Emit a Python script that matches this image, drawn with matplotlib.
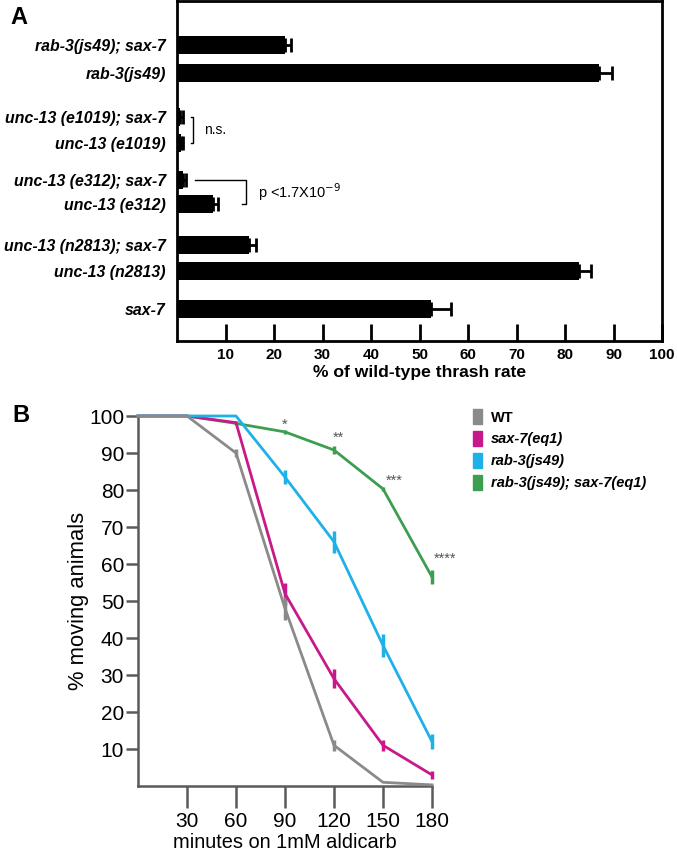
import matplotlib as mpl
mpl.use("Agg")
import matplotlib.pyplot as plt
from matplotlib.patches import Patch
import numpy as np

plt.rcParams['font.family'] = ['Liberation Sans', 'DejaVu Sans']

# ---- panel A data ----
strains = ["rab-3(js49); sax-7", "rab-3(js49)",
           "unc-13 (e1019); sax-7", "unc-13 (e1019)",
           "unc-13 (e312); sax-7", "unc-13 (e312)",
           "unc-13 (n2813); sax-7", "unc-13 (n2813)",
           "sax-7"]
thrash = [22.2, 87.1, 0.6, 0.8, 1.2, 7.5, 14.9, 82.9, 52.4]
thrash_err = [1.4, 2.5, 0.6, 0.5, 0.6, 0.9, 1.4, 2.4, 4.1]
bar_pos = [0, 1.04, 2.67, 3.63, 5.0, 5.89, 7.41, 8.37, 9.78]
xticks_a = [10, 20, 30, 40, 50, 60, 70, 80, 90, 100]

# ---- panel B data ----
minutes = [0, 30, 60, 90, 120, 150, 180]
wt = [100, 100, 90, 48, 11, 1, 0.3]
wt_err = [0, 0, 1, 3, 1.5, 0, 0]
sax7 = [100, 100, 98.2, 52, 29, 11, 3]
sax7_err = [0, 0, 0.5, 3, 2.5, 1.5, 1]
rab3 = [100, 100, 100, 83.5, 66, 38, 12]
rab3_err = [0, 0, 0, 2, 3, 3, 2]
double = [100, 100, 98, 95.7, 90.8, 80.3, 56.5]
double_err = [0, 0, 0, 0.6, 1, 0.6, 2]
stars = ["*", "**", "***", "****"]
star_x = [90, 123, 157, 188]
star_y = [97.5, 94, 82.5, 61.5]

fig = plt.figure(figsize=(6.77, 8.55), dpi=100)

# ================= A =================
axA = fig.add_axes([177/677, 1-341/855, 485/677, 340/855])
axA.barh(bar_pos, thrash, height=0.67, color='black',
         xerr=[np.zeros(len(thrash_err)), thrash_err],
         error_kw=dict(ecolor='black', elinewidth=2, capsize=5, capthick=2))
axA.set_xlim(0, 99)
axA.set_ylim(10.96, -1.63)
axA.set_yticks(bar_pos, strains, fontsize=11.4, fontweight='bold', style='italic')
axA.tick_params(axis='y', length=0, pad=8)
axA.set_xticks(xticks_a, [str(t) for t in xticks_a], fontsize=11, fontweight='bold')
axA.tick_params(axis='x', direction='in', length=12, width=2, pad=5)
for s in axA.spines.values():
    s.set_linewidth(2)
axA.set_xlabel("% of wild-type thrash rate", fontsize=12.6, fontweight='bold', labelpad=2)

# n.s. bracket
axA.plot([2.8, 3.4, 3.4, 2.8], [2.67, 2.67, 3.63, 3.63], color='black', lw=1)
axA.text(5.6, 3.15, "n.s.", fontsize=10, va='center')
# p value bracket
axA.plot([3.8, 14.3, 14.3, 13.3], [5.0, 5.0, 5.89, 5.89], color='black', lw=1)
axA.text(16.8, 5.45, r"p <1.7X10$^{-9}$", fontsize=10.5, va='center')

fig.text(10/677, 1-18/855, "A", fontsize=17, fontweight='bold', va='center')

# ================= B =================
axB = fig.add_axes([138/677, 1-786/855, 294/677, 370/855])
series = [(double, double_err, '#3d9e52'),
          (sax7, sax7_err, '#c8198a'),
          (rab3, rab3_err, '#1eb1e8'),
          (wt, wt_err, '#8a8a8a')]
for vals, err, col in series:
    axB.errorbar(minutes, vals, yerr=err, color=col, lw=2, elinewidth=2.5,
                 capsize=0, clip_on=False, zorder=3)
for s, xs, ys in zip(stars, star_x, star_y):
    axB.text(xs, ys, s, fontsize=10.5, color='#555555', ha='center', va='center')
axB.set_xlim(0, 180)
axB.set_ylim(0, 100)
gray = '#5a5a5a'
axB.spines['top'].set_visible(False)
axB.spines['right'].set_visible(False)
for s in ['left', 'bottom']:
    axB.spines[s].set_color(gray)
    axB.spines[s].set_linewidth(1.8)
axB.set_xticks([30, 60, 90, 120, 150, 180])
axB.set_yticks([10, 20, 30, 40, 50, 60, 70, 80, 90, 100])
for lab in axB.get_xticklabels() + axB.get_yticklabels():
    lab.set_fontsize(15)
axB.tick_params(axis='x', length=16, width=1.8, color=gray, pad=3)
axB.tick_params(axis='y', length=9, width=1.8, color=gray, pad=1)
axB.set_xlabel("minutes on 1mM aldicarb", fontsize=14.4, labelpad=1)
axB.set_ylabel("% moving animals", fontsize=15.8, labelpad=0)

handles = [Patch(color='#8a8a8a'), Patch(color='#c8198a'),
           Patch(color='#1eb1e8'), Patch(color='#3d9e52')]
names = ["WT", "sax-7(eq1)", "rab-3(js49)", "rab-3(js49); sax-7(eq1)"]
leg = fig.legend(handles, names, loc='upper left', bbox_to_anchor=(460/677, 1-396/855),
                 frameon=False, fontsize=10.5, handlelength=0.6, handleheight=1.2,
                 handletextpad=0.6, labelspacing=0.45)
for i, t in enumerate(leg.get_texts()):
    t.set_fontweight('bold')
    if i > 0:
        t.set_style('italic')

fig.text(12/677, 1-415/855, "B", fontsize=17, fontweight='bold', va='center')

fig.savefig("out.png", dpi=100)
